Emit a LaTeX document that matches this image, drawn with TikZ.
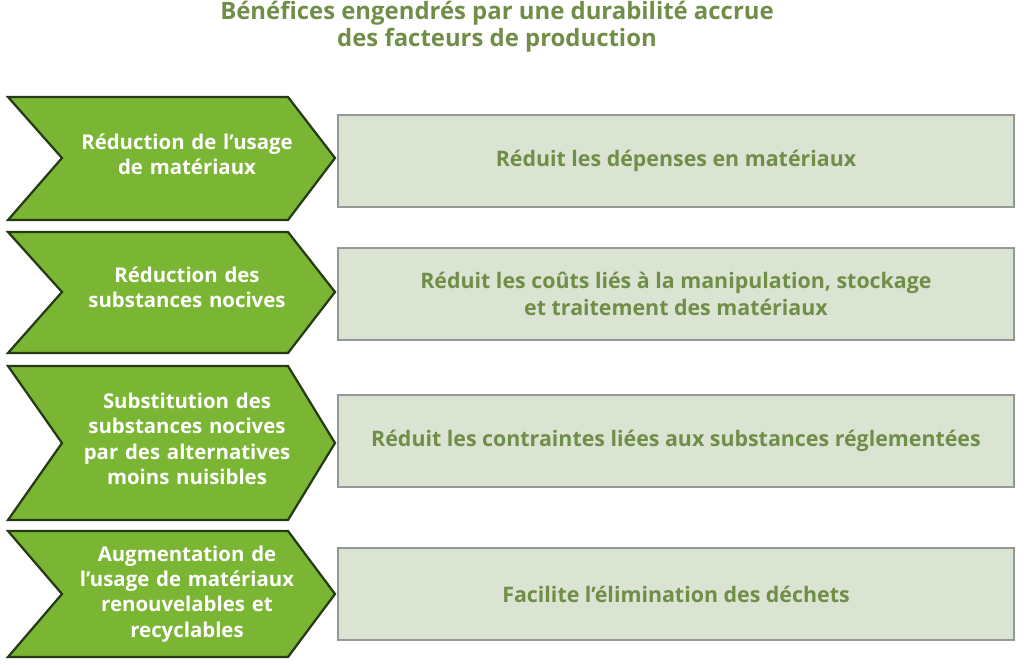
\documentclass[tikz,border=0pt]{standalone}
\usepackage{fontspec}
\setmainfont{Open Sans}
\definecolor{benefGreen}{RGB}{122,182,52}
\definecolor{benefDark}{RGB}{38,58,20}
\definecolor{benefBox}{RGB}{219,228,211}
\definecolor{benefGray}{RGB}{150,152,150}
\definecolor{benefText}{RGB}{112,142,72}
\tikzset{
  chev/.style={draw=benefDark, fill=benefGreen, line width=1.6pt, line join=miter},
  chevtext/.style={text=white, font=\fontsize{14.5}{18}\selectfont\bfseries, align=center, text width=5.6cm},
  benefit/.style={draw=benefGray, fill=benefBox, line width=1.6pt, minimum width=16.9cm, minimum height=2.3cm, text=benefText, font=\fontsize{15.2}{19}\selectfont\bfseries, align=center},
}
\begin{document}
\begin{tikzpicture}[x=0.025cm, y=-0.025cm]
  \useasboundingbox (0,0) rectangle (1024,664);
  % Title
  \node[text=benefText, font=\fontsize{17}{19}\selectfont\bfseries, align=center] (title) at (497,27) {Bénéfices engendrés par une durabilité accrue\\des facteurs de production};

  % Chevrons
  \draw[chev] (8,97) -- (288,97) -- (335,158) -- (288,220) -- (8,220) -- (62,158) -- cycle;
  \draw[chev] (8,232) -- (288,232) -- (335,292) -- (288,353) -- (8,353) -- (62,292) -- cycle;
  \draw[chev] (8,366) -- (288,366) -- (335,443) -- (288,520) -- (8,520) -- (62,443) -- cycle;
  \draw[chev] (8,531) -- (288,531) -- (335,594) -- (288,657) -- (8,657) -- (62,594) -- cycle;

  \node[chevtext] (c1) at (187,154) {Réduction de l’usage\\de matériaux};
  \node[chevtext] (c2) at (187,287) {Réduction des\\substances nocives};
  \node[chevtext] (c3) at (187,439) {Substitution des\\substances nocives\\par des alternatives\\moins nuisibles};
  \node[chevtext] (c4) at (187,594) {Augmentation de\\l’usage de matériaux\\renouvelables et\\recyclables};

  % Benefits
  \node[benefit] (b1) at (676,161) {Réduit les dépenses en matériaux};
  \node[benefit] (b2) at (676,294) {Réduit les coûts liés à la manipulation, stockage\\et traitement des matériaux};
  \node[benefit] (b3) at (676,441) {Réduit les contraintes liées aux substances réglementées};
  \node[benefit] (b4) at (676,594) {Facilite l’élimination des déchets};
\end{tikzpicture}
\end{document}
